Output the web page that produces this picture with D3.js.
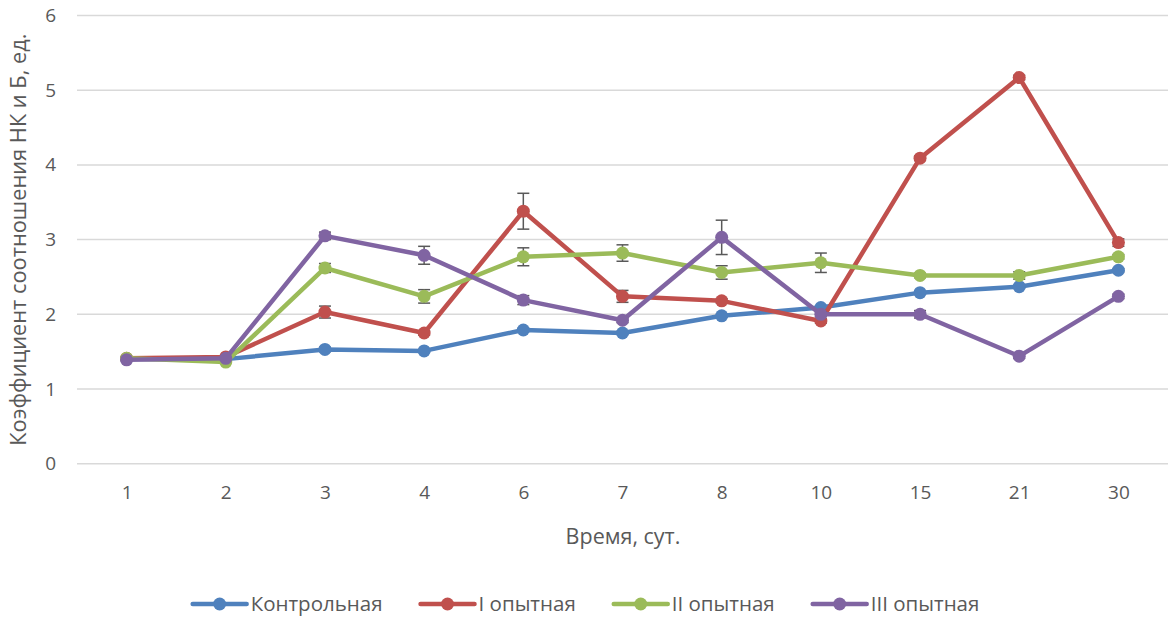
<!DOCTYPE html>
<html>
<head>
<meta charset="utf-8">
<script src="https://cdn.jsdelivr.net/npm/d3@7"></script>
<style>
  html, body { margin: 0; padding: 0; background: #fff; }
  svg { display: block; font-family: "Open Sans", sans-serif; }
</style>
</head>
<body>
<svg id="chart" width="1168" height="619"></svg>
<script>
// Days of observation
const days = ["1", "2", "3", "4", "6", "7", "8", "10", "15", "21", "30"];

// Ratio coefficient per group
const control = [1.40, 1.40, 1.53, 1.51, 1.79, 1.75, 1.98, 2.09, 2.29, 2.37, 2.59];
const group1  = [1.41, 1.43, 2.03, 1.75, 3.38, 2.24, 2.18, 1.91, 4.09, 5.17, 2.96];
const group2  = [1.41, 1.36, 2.62, 2.24, 2.77, 2.82, 2.56, 2.69, 2.52, 2.52, 2.77];
const group3  = [1.39, 1.41, 3.05, 2.79, 2.19, 1.92, 3.03, 2.00, 2.00, 1.44, 2.24];

// Standard errors
const control_err = [0, 0, 0.03, 0.02, 0.02, 0.02, 0.02, 0.02, 0.02, 0.02, 0.02];
const group1_err  = [0, 0, 0.08, 0.03, 0.24, 0.08, 0.03, 0.03, 0.03, 0.03, 0.05];
const group2_err  = [0, 0, 0.06, 0.09, 0.12, 0.11, 0.09, 0.13, 0.03, 0.05, 0.03];
const group3_err  = [0, 0, 0.05, 0.12, 0.06, 0.03, 0.23, 0.03, 0.05, 0.03, 0.03];

const seriesNames = ["Контрольная", "I опытная", "II опытная", "III опытная"];
const seriesColors = ["#4F81BD", "#C0504D", "#9BBB59", "#8064A2"];
const yTicks = [0, 1, 2, 3, 4, 5, 6];

const series = [
  { name: seriesNames[0], color: seriesColors[0], values: control, err: control_err },
  { name: seriesNames[1], color: seriesColors[1], values: group1,  err: group1_err },
  { name: seriesNames[2], color: seriesColors[2], values: group2,  err: group2_err },
  { name: seriesNames[3], color: seriesColors[3], values: group3,  err: group3_err }
];

const svg = d3.select("#chart");
const plot = { left: 77, right: 1168, top: 15.5, bottom: 463.7 };

const x = d3.scalePoint().domain(days).range([plot.left, plot.right]).padding(0.5);
const y = d3.scaleLinear().domain([0, 6]).range([plot.bottom, plot.top]);

const textColor = "#595959";

// Horizontal gridlines
svg.append("g")
  .selectAll("line")
  .data(yTicks)
  .join("line")
  .attr("x1", plot.left).attr("x2", plot.right)
  .attr("y1", d => y(d)).attr("y2", d => y(d))
  .attr("stroke", "#D9D9D9").attr("stroke-width", 1.5);

// Y axis labels
const yAxis = svg.append("g")
  .attr("transform", `translate(${plot.left - 21},0)`)
  .call(d3.axisLeft(y).tickValues(yTicks).tickSize(0).tickPadding(0).tickFormat(d3.format("d")));
yAxis.select(".domain").remove();
yAxis.selectAll("text")
  .attr("fill", textColor).attr("font-size", 19)
  .attr("font-family", "'Open Sans', sans-serif");

// X axis labels
const xAxis = svg.append("g")
  .attr("transform", `translate(0,${plot.bottom})`)
  .call(d3.axisBottom(x).tickSize(0).tickPadding(22));
xAxis.select(".domain").remove();
xAxis.selectAll("text")
  .attr("fill", textColor).attr("font-size", 19)
  .attr("font-family", "'Open Sans', sans-serif");

// Axis titles
svg.append("text")
  .attr("x", 623)
  .attr("y", 544)
  .attr("text-anchor", "middle")
  .attr("fill", textColor).attr("font-size", 21.5)
  .text("Время, сут.");

svg.append("text")
  .attr("transform", `translate(26,${(plot.top + plot.bottom) / 2}) rotate(-90)`)
  .attr("text-anchor", "middle")
  .attr("fill", textColor).attr("font-size", 21.8)
  .text("Коэффициент соотношения НК и Б, ед.");

// Series: error bars, line, markers
const line = d3.line()
  .x((d, i) => x(days[i]))
  .y(d => y(d));

series.forEach(s => {
  const g = svg.append("g");
  const eb = g.append("g");
  s.values.forEach((v, i) => {
    const e = s.err[i];
    if (!e) return;
    const cx = x(days[i]);
    eb.append("line")
      .attr("x1", cx).attr("x2", cx)
      .attr("y1", y(v - e)).attr("y2", y(v + e))
      .attr("stroke", "#595959").attr("stroke-width", 1.5);
    [v - e, v + e].forEach(t => {
      eb.append("line")
        .attr("x1", cx - 6).attr("x2", cx + 6)
        .attr("y1", y(t)).attr("y2", y(t))
        .attr("stroke", "#595959").attr("stroke-width", 1.5);
    });
  });
  g.append("path")
    .attr("d", line(s.values))
    .attr("fill", "none")
    .attr("stroke", s.color)
    .attr("stroke-width", 4.5)
    .attr("stroke-linejoin", "round")
    .attr("stroke-linecap", "round");
  g.selectAll("circle")
    .data(s.values)
    .join("circle")
    .attr("cx", (d, i) => x(days[i]))
    .attr("cy", d => y(d))
    .attr("r", 6.5)
    .attr("fill", s.color);
});

// Legend
const legend = svg.append("g");
const legendY = 604;
let cursor = 0;
series.forEach((s, i) => {
  const item = legend.append("g").attr("transform", `translate(${cursor},0)`);
  item.append("line")
    .attr("x1", 0).attr("x2", 54)
    .attr("y1", legendY).attr("y2", legendY)
    .attr("stroke", s.color).attr("stroke-width", 4.5).attr("stroke-linecap", "round");
  item.append("circle")
    .attr("cx", 27).attr("cy", legendY).attr("r", 6.5).attr("fill", s.color);
  const t = item.append("text")
    .attr("x", 58).attr("y", legendY + 7)
    .attr("fill", textColor).attr("font-size", 20.5)
    .text(s.name);
  const w = t.node().getComputedTextLength();
  cursor += 58 + w + 38;
});
const totalW = cursor - 38;
legend.attr("transform", `translate(${586 - totalW / 2},0)`);
</script>
</body>
</html>
